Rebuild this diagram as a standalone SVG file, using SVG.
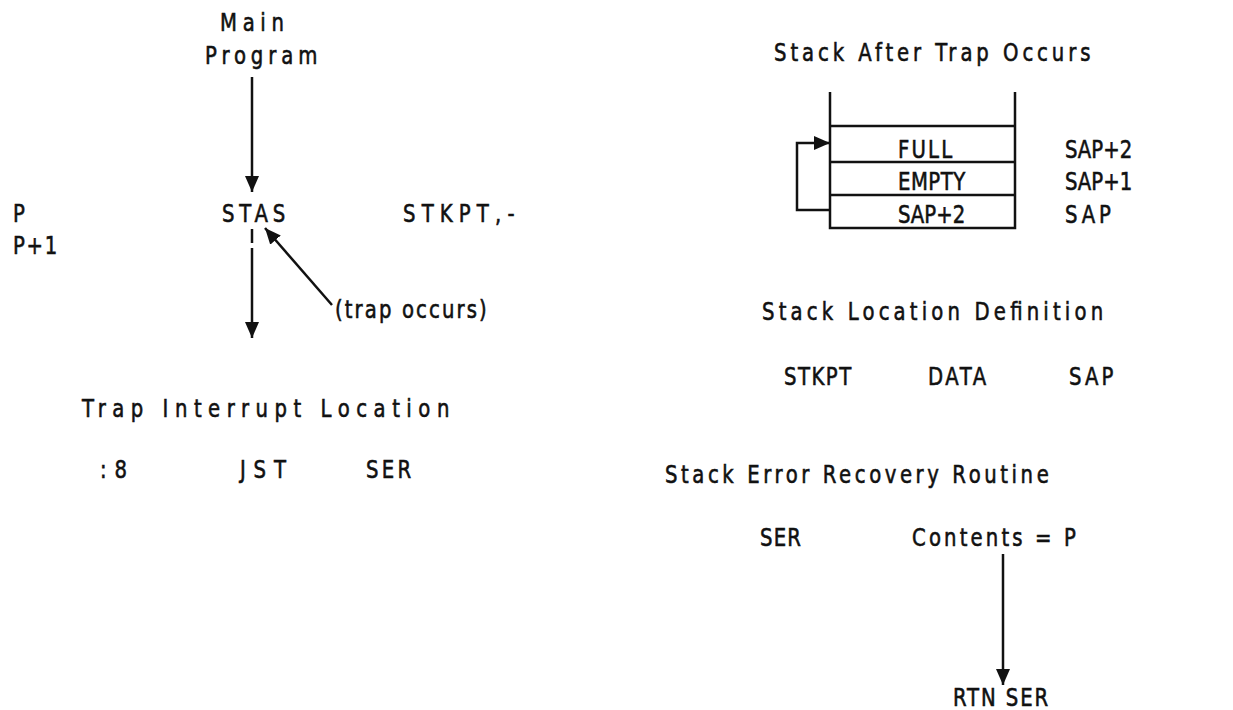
<svg xmlns="http://www.w3.org/2000/svg" width="1233" height="710" viewBox="0 0 1233 710">
<style>
text{font-family:"DejaVu Sans","Liberation Sans",sans-serif;font-size:24px;fill:#111;stroke:#111;stroke-width:0.6}
.ln{stroke:#111;stroke-width:2.5;fill:none}
</style>
<defs>
<marker id="ah" markerUnits="userSpaceOnUse" markerWidth="18" markerHeight="14" refX="16" refY="7" orient="auto">
<path d="M0,0 L16,7 L0,14 Z" fill="#111"/>
</marker>
</defs>
<rect width="1233" height="710" fill="#fff"/>
<g id="main-program"><text transform="translate(220 31) scale(.82 1)" textLength="78" lengthAdjust="spacing">Main</text><text transform="translate(205 64) scale(.82 1)" textLength="137" lengthAdjust="spacing">Program</text></g>
<g id="p-labels"><text transform="translate(13 222) scale(.82 1)">P</text><text transform="translate(13 254) scale(.82 1)" textLength="54" lengthAdjust="spacing">P+1</text></g>
<g id="stas"><text transform="translate(222 222) scale(.82 1)" textLength="77" lengthAdjust="spacing">STAS</text><text transform="translate(403 222) scale(.82 1)" textLength="136" lengthAdjust="spacing">STKPT,-</text></g>
<g id="trap-occurs"><text transform="translate(335 318) scale(.82 1)" textLength="185" lengthAdjust="spacing">(trap occurs)</text></g>
<g id="trap-interrupt"><text transform="translate(82 417) scale(.82 1)" textLength="448" lengthAdjust="spacing">Trap Interrupt Location</text>
<text transform="translate(100 478) scale(.82 1)" textLength="33" lengthAdjust="spacing">:8</text><text transform="translate(240 478) scale(.82 1)" textLength="56" lengthAdjust="spacing">JST</text><text transform="translate(366 478) scale(.82 1)" textLength="55" lengthAdjust="spacing">SER</text></g>
<g id="stack-after"><text transform="translate(774 61) scale(.82 1)" textLength="386" lengthAdjust="spacing">Stack After Trap Occurs</text>
<path class="ln" d="M830,92 V228 H1015 V92 M830,126 H1015 M830,162 H1015 M830,195 H1015"/>
<text transform="translate(898 158) scale(.82 1)" textLength="66" lengthAdjust="spacing">FULL</text>
<text transform="translate(898 190) scale(.82 1)" textLength="82" lengthAdjust="spacing">EMPTY</text>
<text transform="translate(898 223) scale(.82 1)" textLength="82" lengthAdjust="spacing">SAP+2</text>
<text transform="translate(1065 158) scale(.82 1)" textLength="82" lengthAdjust="spacing">SAP+2</text>
<text transform="translate(1065 190) scale(.82 1)" textLength="82" lengthAdjust="spacing">SAP+1</text>
<text transform="translate(1065 223) scale(.82 1)" textLength="56" lengthAdjust="spacing">SAP</text></g>
<g id="stack-location"><text transform="translate(762 320) scale(.82 1)" textLength="416" lengthAdjust="spacing">Stack Location Definition</text>
<text transform="translate(784 385) scale(.82 1)" textLength="82" lengthAdjust="spacing">STKPT</text><text transform="translate(928 385) scale(.82 1)" textLength="71" lengthAdjust="spacing">DATA</text><text transform="translate(1069 385) scale(.82 1)" textLength="54" lengthAdjust="spacing">SAP</text></g>
<g id="stack-error"><text transform="translate(665 483) scale(.82 1)" textLength="468" lengthAdjust="spacing">Stack Error Recovery Routine</text>
<text transform="translate(760 546) scale(.82 1)" textLength="50" lengthAdjust="spacing">SER</text><text transform="translate(912 546) scale(.82 1)" textLength="200" lengthAdjust="spacing">Contents = P</text></g>
<g id="rtn-ser"><text transform="translate(953 706) scale(.82 1)" textLength="116" lengthAdjust="spacing">RTN SER</text></g>
<g id="connectors">
<line class="ln" x1="252" y1="77" x2="252" y2="192" marker-end="url(#ah)"/>
<line class="ln" x1="252" y1="229" x2="252" y2="243"/>
<line class="ln" x1="252" y1="248" x2="252" y2="338" marker-end="url(#ah)"/>
<line class="ln" x1="332" y1="305" x2="265" y2="228" marker-end="url(#ah)"/>
<path class="ln" d="M830,210 H797 V143 H830" marker-end="url(#ah)"/>
<line class="ln" x1="1003" y1="554" x2="1003" y2="685" marker-end="url(#ah)"/>
</g>
</svg>
